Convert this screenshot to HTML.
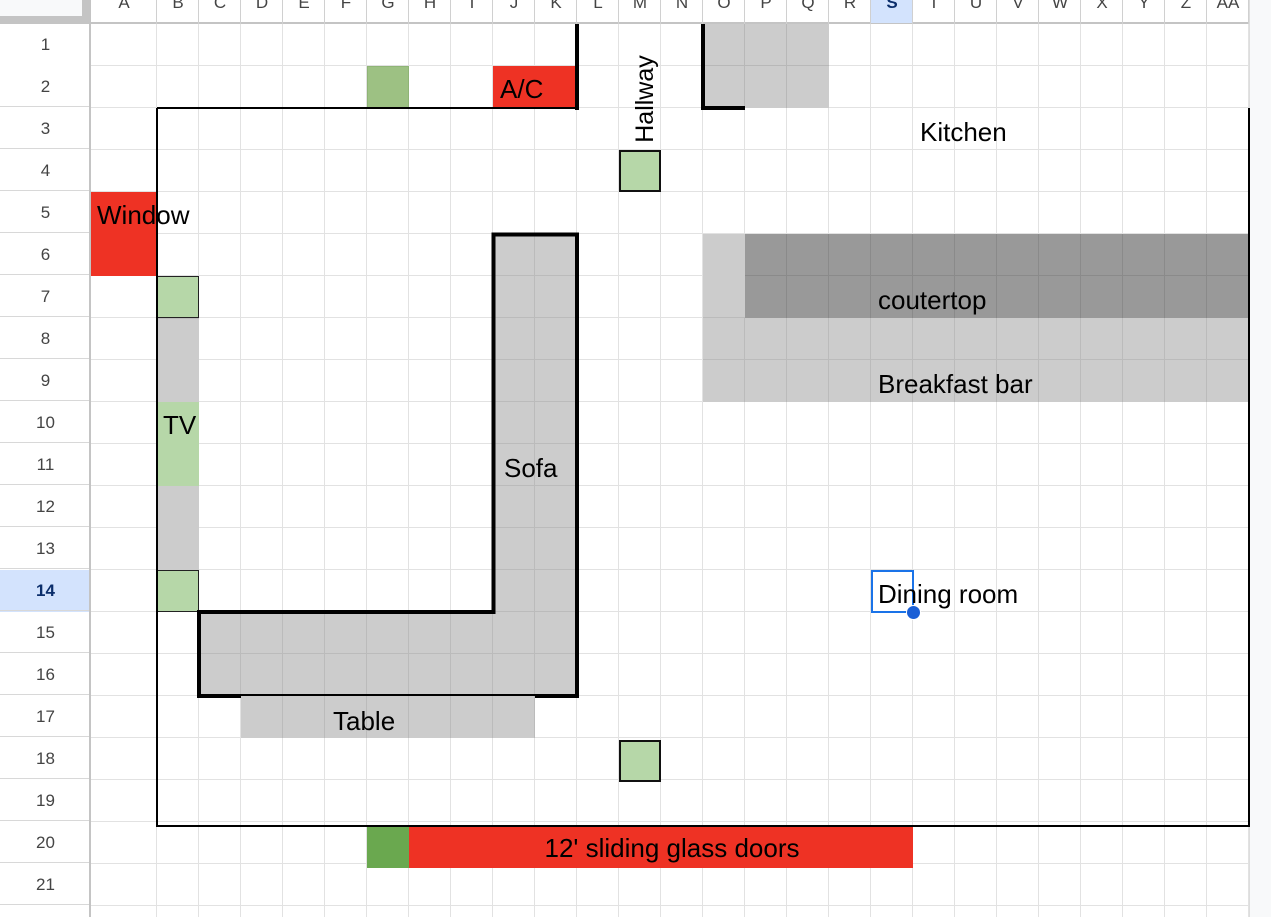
<!DOCTYPE html>
<html><head><meta charset="utf-8"><style>
body{margin:0;width:1271px;height:917px;overflow:hidden;background:#fff;font-family:"Liberation Sans",Arial,sans-serif;position:relative}
.a{position:absolute;box-sizing:border-box}
.t{position:absolute;font-size:26px;color:#000;white-space:nowrap;line-height:42px;transform-origin:left center}
.ch{position:absolute;top:-9px;width:42px;text-align:center;font-size:17px;color:#444;line-height:24px}
.rh{position:absolute;left:0;width:91px;text-align:center;font-size:17px;color:#444;line-height:42px}
</style></head><body>
<div class="a" style="left:91px;top:24px;width:1158px;height:893px;
background-image:repeating-linear-gradient(to bottom,transparent 0 41px,#e2e2e2 41px 42px),linear-gradient(to right,transparent 65px,#e2e2e2 65px 66px,transparent 66px);"></div>
<div class="a" style="left:157px;top:24px;width:1092px;height:893px;background-image:repeating-linear-gradient(to right,transparent 0 41px,#e2e2e2 41px 42px)"></div>
<div class="a" style="left:1249px;top:0;width:22px;height:917px;background:#f8f9fa;border-left:1px solid #ddd"></div>
<div class="a" style="left:1238px;top:0;width:5px;height:16px;background:#555;border-radius:3px"></div>
<div class="a" style="left:0;top:0;width:1249px;height:24px;border-bottom:2px solid #c4c4c4;background:#fff"></div>
<div class="a" style="left:0;top:0;width:91px;height:24px;background:#c4c4c4"></div>
<div class="a" style="left:0;top:0;width:82px;height:16px;background:#f8f9fa"></div>
<div class="a" style="left:89px;top:0;width:2px;height:917px;background:#c4c4c4"></div>
<div class="a" style="left:871px;top:0;width:42px;height:23px;background:#d3e3fd"></div>
<div class="a" style="left:0;top:570px;width:89px;height:42px;background:#d3e3fd"></div>
<div class="a" style="left:157px;top:0;width:1092px;height:24px;background-image:repeating-linear-gradient(to right,transparent 0 41px,#d0d0d0 41px 42px)"></div>
<div class="a" style="left:156px;top:0;width:1px;height:24px;background:#d0d0d0"></div>
<div class="ch" style="left:91px;width:66px">A</div>
<div class="ch" style="left:157px">B</div><div class="ch" style="left:199px">C</div><div class="ch" style="left:241px">D</div><div class="ch" style="left:283px">E</div><div class="ch" style="left:325px">F</div><div class="ch" style="left:367px">G</div><div class="ch" style="left:409px">H</div><div class="ch" style="left:451px">I</div><div class="ch" style="left:493px">J</div><div class="ch" style="left:535px">K</div><div class="ch" style="left:577px">L</div><div class="ch" style="left:619px">M</div><div class="ch" style="left:661px">N</div><div class="ch" style="left:703px">O</div><div class="ch" style="left:745px">P</div><div class="ch" style="left:787px">Q</div><div class="ch" style="left:829px">R</div><div class="ch" style="left:871px;color:#0b2e6b;font-weight:bold">S</div><div class="ch" style="left:913px">T</div><div class="ch" style="left:955px">U</div><div class="ch" style="left:997px">V</div><div class="ch" style="left:1039px">W</div><div class="ch" style="left:1081px">X</div><div class="ch" style="left:1123px">Y</div><div class="ch" style="left:1165px">Z</div><div class="ch" style="left:1207px">AA</div>
<div class="rh" style="top:24px">1</div><div class="rh" style="top:66px">2</div><div class="rh" style="top:108px">3</div><div class="rh" style="top:150px">4</div><div class="rh" style="top:192px">5</div><div class="rh" style="top:234px">6</div><div class="rh" style="top:276px">7</div><div class="rh" style="top:318px">8</div><div class="rh" style="top:360px">9</div><div class="rh" style="top:402px">10</div><div class="rh" style="top:444px">11</div><div class="rh" style="top:486px">12</div><div class="rh" style="top:528px">13</div><div class="rh" style="top:570px;color:#0b2e6b;font-weight:bold">14</div><div class="rh" style="top:612px">15</div><div class="rh" style="top:654px">16</div><div class="rh" style="top:696px">17</div><div class="rh" style="top:738px">18</div><div class="rh" style="top:780px">19</div><div class="rh" style="top:822px">20</div><div class="rh" style="top:864px">21</div>
<div class="a" style="left:0;top:65px;width:89px;height:852px;background-image:repeating-linear-gradient(to bottom,transparent 0 41px,#d8d8d8 41px 42px)"></div>

<div class="a" style="left:367px;top:66px;width:42px;height:42px;background:#9dc183;border:1px solid #8fb476"></div>
<div class="a" style="left:493px;top:66px;width:84px;height:42px;background:#ee3224"></div>
<div class="t" style="left:500px;top:68px">A/C</div>
<div class="a" style="left:703px;top:24px;width:126px;height:84px;background:#cccccc;background-image:linear-gradient(to right,transparent 41px,#b8b8b8 41px 42px,transparent 42px 83px,#b8b8b8 83px 84px,transparent 84px),linear-gradient(to bottom,transparent 41px,#b8b8b8 41px 42px,transparent 42px)"></div>
<div class="a" style="left:91px;top:192px;width:66px;height:84px;background:#ee3224"></div>
<div class="t" style="left:97px;top:194px">Window</div>
<div class="a" style="left:157px;top:276px;width:42px;height:42px;background:#b6d7a8;border:1px solid #222"></div>
<div class="a" style="left:157px;top:318px;width:42px;height:84px;background:#ccc;border-top:1px solid #bbb"></div>
<div class="a" style="left:157px;top:402px;width:42px;height:84px;background:#b6d7a8"></div>
<div class="t" style="left:163px;top:404px">TV</div>
<div class="a" style="left:157px;top:486px;width:42px;height:84px;background:#ccc"></div>
<div class="a" style="left:157px;top:570px;width:42px;height:42px;background:#b6d7a8;border:1px solid #222"></div>
<div class="a" style="left:493px;top:234px;width:84px;height:462px;background:#ccc;background-image:linear-gradient(to right,transparent 41px,#bbb 41px 42px,transparent 42px),repeating-linear-gradient(to bottom,transparent 0 41px,#bbb 41px 42px)"></div>
<div class="a" style="left:199px;top:612px;width:378px;height:84px;background:#ccc;background-image:repeating-linear-gradient(to right,transparent 0 41px,#bbb 41px 42px),linear-gradient(to bottom,transparent 41px,#bbb 41px 42px,transparent 42px)"></div>
<svg class="a" style="left:0;top:0" width="1271" height="917">
<path d="M493.5 234.5 H577 V696 H199 V612 H493.5 Z" fill="none" stroke="#000" stroke-width="4"/>
</svg>
<div class="t" style="left:504px;top:447px">Sofa</div>
<div class="a" style="left:241px;top:696px;width:294px;height:42px;background:#ccc;background-image:repeating-linear-gradient(to right,transparent 0 41px,#bbb 41px 42px)"></div>
<div class="t" style="left:333px;top:700px">Table</div>
<div class="a" style="left:619px;top:150px;width:42px;height:42px;background:#b6d7a8;border:2px solid #111"></div>
<div class="t" style="left:590px;top:78px;transform:rotate(-90deg);transform-origin:center;width:110px;text-align:center;font-size:25px">Hallway</div>
<div class="a" style="left:619px;top:740px;width:42px;height:42px;background:#b6d7a8;border:2px solid #111"></div>
<div class="t" style="left:920px;top:111px">Kitchen</div>
<div class="a" style="left:703px;top:234px;width:42px;height:84px;background:#ccc;border-bottom:1px solid #bbb"></div>
<div class="a" style="left:745px;top:234px;width:504px;height:84px;background:#999;background-image:repeating-linear-gradient(to right,transparent 0 41px,#8a8a8a 41px 42px),linear-gradient(to bottom,transparent 41px,#8a8a8a 41px 42px,transparent 42px)"></div>
<div class="t" style="left:878px;top:279px">coutertop</div>
<div class="a" style="left:703px;top:318px;width:546px;height:84px;background:#ccc;background-image:repeating-linear-gradient(to right,transparent 0 41px,#bbb 41px 42px),linear-gradient(to bottom,transparent 41px,#bbb 41px 42px,transparent 42px)"></div>
<div class="t" style="left:878px;top:363px">Breakfast bar</div>
<div class="a" style="left:367px;top:826px;width:42px;height:42px;background:#6aa84f"></div>
<div class="a" style="left:409px;top:826px;width:504px;height:42px;background:#ee3224"></div>
<div class="t" style="left:409px;top:827px;width:526px;text-align:center">12' sliding glass doors</div>
<div class="a" style="left:575px;top:24px;width:4px;height:86px;background:#000"></div>
<div class="a" style="left:157px;top:107px;width:422px;height:2px;background:#000"></div>
<div class="a" style="left:701px;top:24px;width:4px;height:86px;background:#000"></div>
<div class="a" style="left:701px;top:106px;width:44px;height:4px;background:#000"></div>
<div class="a" style="left:156px;top:108px;width:2px;height:719px;background:#000"></div>
<div class="a" style="left:156px;top:825px;width:1094px;height:2px;background:#000"></div>
<div class="a" style="left:1248px;top:108px;width:2px;height:719px;background:#000"></div>
<div class="a" style="left:871px;top:570px;width:43px;height:43px;border:2px solid #1a73e8"></div>
<div class="t" style="left:878px;top:573px">Dining room</div>
<div class="a" style="left:906px;top:605px;width:15px;height:15px;border-radius:50%;background:#1a5fd6;border:1px solid #fff"></div>
</body></html>
